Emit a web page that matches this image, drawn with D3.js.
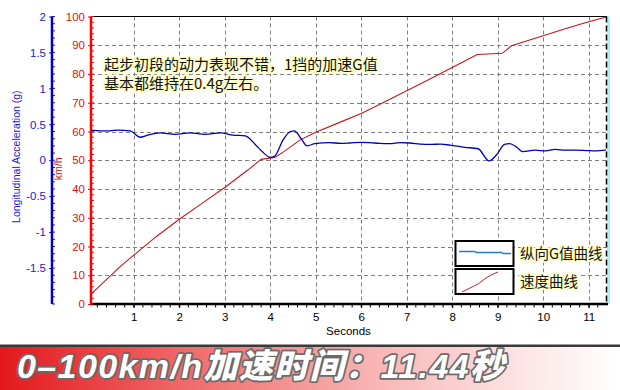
<!DOCTYPE html>
<html><head><meta charset="utf-8">
<script src="https://cdn.jsdelivr.net/npm/d3@7/dist/d3.min.js"></script>
<style>
html,body{margin:0;padding:0;background:#fff;}
svg{display:block;}
</style></head>
<body>
<svg id="c" width="620" height="390"></svg>
<script>
// ---- data ----
const timeDomain = [0.06, 11.38];
const xTicks = [1,2,3,4,5,6,7,8,9,10,11];
const speedTicks = [0,10,20,30,40,50,60,70,80,90,100];
const gTicks = [-1.5,-1,-0.5,0,0.5,1,1.5,2];
const speedT = [0.06,0.3,0.7,1,1.5,2,2.5,3,3.5,3.8,4.1,4.3,4.65,5,5.5,6,6.5,7,7.5,8,8.55,9.1,9.3,10,10.5,11,11.38];
const speedV = [3.4,7,13,17,23.5,29.5,35,40.5,46.5,50.3,51,53,57,59.7,63,66.3,70.2,74.2,78.2,82.3,86.8,87.2,89.8,93.3,95.8,98.2,99.8];
const gT = [0.06,0.26,0.48,0.65,0.92,1.14,1.31,1.58,1.91,2.24,2.57,2.9,3.18,3.45,3.67,3.84,4.0,4.1,4.28,4.44,4.53,4.67,4.81,4.98,5.3,5.55,5.75,6.0,6.19,6.4,6.63,6.85,7.07,7.3,7.51,7.75,7.95,8.28,8.57,8.81,8.98,9.15,9.26,9.42,9.55,9.82,10.05,10.26,10.5,10.7,10.95,11.14,11.38];
const gV = [0.42,0.41,0.41,0.42,0.41,0.32,0.35,0.38,0.36,0.38,0.36,0.38,0.35,0.34,0.22,0.11,0.04,0.06,0.28,0.40,0.41,0.31,0.20,0.23,0.245,0.235,0.24,0.25,0.245,0.235,0.23,0.245,0.24,0.225,0.22,0.225,0.21,0.18,0.16,-0.01,0.08,0.22,0.23,0.18,0.12,0.14,0.13,0.15,0.14,0.14,0.135,0.13,0.14];
const noteLines = ["起步初段的动力表现不错，1挡的加速G值","基本都维持在0.4g左右。"];
const legendLabels = ["纵向G值曲线","速度曲线"];
const xTitle = "Seconds";
const gTitle = "Longitudinal Acceleration (g)";
const speedTitle = "km/h";
const banner = "0–100km/h加速时间：11.44秒";

// ---- layout ----
const L = 91, R = 606, T = 16.5, B = 304, GAX = 52;
const svg = d3.select("#c");
const x = d3.scaleLinear().domain(timeDomain).range([L, R]);
const yS = d3.scaleLinear().domain([0,100]).range([B, T]);
const yG = d3.scaleLinear().domain([-2,2]).range([B, T]);
const font = "'Liberation Sans', Arial, sans-serif";
const cjk = "'Noto Sans CJK SC', sans-serif";

// grid
const grid = svg.append("g").attr("stroke","#808080").attr("stroke-width",1).attr("stroke-dasharray","4,3");
grid.selectAll("line.h").data(speedTicks.filter(d=>d>0&&d<100)).join("line")
  .attr("x1",L).attr("x2",R).attr("y1",d=>Math.round(yS(d))+0.5).attr("y2",d=>Math.round(yS(d))+0.5);
grid.selectAll("line.v").data(xTicks).join("line").attr("class","v")
  .attr("y1",T).attr("y2",B).attr("x1",d=>Math.round(x(d))+0.5).attr("x2",d=>Math.round(x(d))+0.5);

// right border
svg.append("rect").attr("x",R+1).attr("y",T).attr("width",3).attr("height",B-T).attr("fill","#a8f4f4");
svg.append("line").attr("x1",R+0.5).attr("x2",R+0.5).attr("y1",T).attr("y2",B)
  .attr("stroke","#000").attr("stroke-width",1.5).attr("stroke-dasharray","6,3");
// top border
svg.append("line").attr("x1",L).attr("x2",R+1).attr("y1",T).attr("y2",T).attr("stroke","#000").attr("stroke-width",1.2);

// x axis
const xa = svg.append("g").attr("transform",`translate(0,${B})`)
  .call(d3.axisBottom(x).tickValues(xTicks).tickSize(4).tickPadding(5).tickFormat(d3.format("d")));
xa.select(".domain").remove();
xa.selectAll("text").attr("font-family",font).attr("font-size",11.5).attr("fill","#000");
xa.selectAll(".tick line").attr("stroke","#000");
const xMinor = d3.range(Math.ceil(timeDomain[0]*5), Math.floor(timeDomain[1]*5)+1).map(d=>d/5);
svg.append("g").selectAll("line").data(xMinor).join("line")
  .attr("x1",d=>x(d)).attr("x2",d=>x(d)).attr("y1",B).attr("y2",B+3.5).attr("stroke","#000");
svg.append("line").attr("x1",L-1).attr("x2",R+2).attr("y1",B).attr("y2",B).attr("stroke","#000").attr("stroke-width",2.5);
svg.append("text").attr("x",(L+R)/2).attr("y",335).attr("text-anchor","middle")
  .attr("font-family",font).attr("font-size",11.5).attr("fill","#000").text(xTitle);

// speed axis (red)
const ya = svg.append("g").attr("transform",`translate(${L},0)`)
  .call(d3.axisLeft(yS).tickValues(speedTicks).tickSize(3).tickPadding(3));
ya.select(".domain").remove();
ya.selectAll("text").attr("font-family",font).attr("font-size",11.5).attr("fill","#e01010");
ya.selectAll(".tick line").attr("stroke","#e01010");
svg.append("g").selectAll("line").data(d3.range(0,101,2)).join("line")
  .attr("x1",L).attr("x2",L+3).attr("y1",d=>yS(d)).attr("y2",d=>yS(d)).attr("stroke","#e01010");
svg.append("line").attr("x1",L).attr("x2",L).attr("y1",T).attr("y2",B).attr("stroke","#ff0000").attr("stroke-width",2.5);
svg.append("text").attr("transform",`translate(62,${yS(47)}) rotate(-90)`).attr("text-anchor","middle")
  .attr("font-family",font).attr("font-size",10.5).attr("fill","#d01010").text(speedTitle);

// g axis (blue)
const ga = svg.append("g").attr("transform",`translate(${GAX},0)`)
  .call(d3.axisLeft(yG).tickValues(gTicks).tickSize(3).tickPadding(3).tickFormat(d=>d3.format("")(d).replace("−","-")));
ga.select(".domain").remove();
ga.selectAll("text").attr("font-family",font).attr("font-size",11.5).attr("fill","#1a1ad0");
ga.selectAll(".tick line").attr("stroke","#1a1ad0");
svg.append("g").selectAll("line").data(d3.range(-20,21).map(d=>d/10)).join("line")
  .attr("x1",GAX).attr("x2",GAX+3).attr("y1",d=>yG(d)).attr("y2",d=>yG(d)).attr("stroke","#1a1ad0");
svg.append("line").attr("x1",GAX).attr("x2",GAX).attr("y1",T).attr("y2",B).attr("stroke","#0000c0").attr("stroke-width",2.5);
svg.append("text").attr("transform",`translate(20,${yG(0.05)}) rotate(-90)`).attr("text-anchor","middle")
  .attr("font-family",font).attr("font-size",10.5).attr("fill","#1a1ad0").text(gTitle);

// series
const spd = speedT.map((t,i)=>[t,speedV[i]]);
const gg = gT.map((t,i)=>[t,gV[i]]);
svg.append("path").datum(spd).attr("fill","none").attr("stroke","#c8141c").attr("stroke-width",1.1)
  .attr("d",d3.line().x(d=>x(d[0])).y(d=>yS(d[1])));
svg.append("path").datum(gg).attr("fill","none").attr("stroke","#0000b4").attr("stroke-width",1.3)
  .attr("d",d3.line().curve(d3.curveMonotoneX).x(d=>x(d[0])).y(d=>yG(d[1])));

// annotation
svg.append("g").selectAll("text").data(noteLines).join("text")
  .attr("x",104).attr("y",(d,i)=>70+i*19)
  .attr("font-family",cjk).attr("font-size",15).attr("fill","#111")
  .attr("stroke","#ffffcc").attr("stroke-width",4).attr("paint-order","stroke").attr("stroke-linejoin","round")
  .text(d=>d);

// legend
const lg = svg.append("g");
const boxes = [{y:241},{y:269}];
lg.selectAll("rect").data(boxes).join("rect")
  .attr("x",455.5).attr("y",d=>d.y).attr("width",58).attr("height",25)
  .attr("fill","#fff").attr("stroke","#000").attr("stroke-width",2);
lg.append("path").attr("d","M459,251.5 H475 L476,252.5 H502 L503,253.5 H511").attr("fill","none").attr("stroke","#2a78c8").attr("stroke-width",1.3);
lg.append("path").attr("d","M462,292 L470,288 L478,284 L486,278 L491,275 L498,272").attr("fill","none").attr("stroke","#d02020").attr("stroke-width",1);
lg.selectAll("text").data(legendLabels).join("text")
  .attr("x",520).attr("y",(d,i)=>259+i*28)
  .attr("font-family",cjk).attr("font-size",14.5).attr("fill","#111")
  .attr("stroke","#ffffcc").attr("stroke-width",4).attr("paint-order","stroke").attr("stroke-linejoin","round")
  .text(d=>d);

// banner
const defs = svg.append("defs");
const lgd = defs.append("linearGradient").attr("id","bn").attr("x1","0").attr("x2","1").attr("y1","0").attr("y2","0");
[["0%","#e3181c"],["30%","#f06a6a"],["60%","#f8b4b4"],["85%","#fde6e6"],["100%","#ffffff"]].forEach(s=>lgd.append("stop").attr("offset",s[0]).attr("stop-color",s[1]));
svg.append("rect").attr("x",0).attr("y",347).attr("width",620).attr("height",43).attr("fill","url(#bn)");
svg.append("rect").attr("x",0).attr("y",344.5).attr("width",620).attr("height",2.5).attr("fill","#3a3a3a");
svg.append("text").attr("x",17).attr("y",377.5)
  .attr("font-family","'Liberation Sans','Noto Sans CJK SC',sans-serif").attr("font-size",34).attr("font-weight",900)
  .attr("letter-spacing",1.4)
  .attr("font-style","italic").attr("fill","#fff").attr("stroke","#6a6a6a").attr("stroke-width",3.5)
  .attr("paint-order","stroke").attr("stroke-linejoin","round").text(banner);
</script>
</body></html>
